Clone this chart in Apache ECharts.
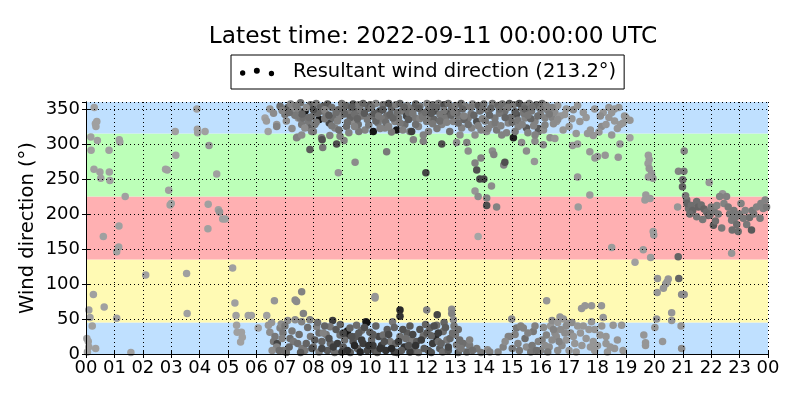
<!DOCTYPE html>
<html>
<head>
<meta charset="utf-8">
<script src="https://cdn.jsdelivr.net/npm/echarts@6/dist/echarts.min.js"></script>
<style>html,body{margin:0;padding:0;background:#fff}#c{width:800px;height:400px}</style>
</head>
<body>
<div id="c"></div>
<script>
// Each point: [hour of day, wind direction (deg), grey level of marker]
const pts00to06 = [
[0.29,352,160],[0.38,332,160],[0.35,325,160],[0.33,329,160],[0.17,310,160],[0.4,305,160],[0.18,291,160],[0.28,264,160],[0.49,260,160],[0.52,251,160],[0.81,291,160],[0.82,260,160],[0.84,248,160],[1.17,306,160],[1.19,303,160],[1.38,225,160],[0.61,168,160],[1.16,183,160],[1.15,153,160],[1.08,146,160],[0.26,85,160],[0.64,67,160],[0.1,63,160],[0.14,52,160],[0.22,40,160],[1.08,51,160],[0.08,18,160],[0.1,10,160],[0.34,8,160],[0.05,3,160],[0.03,22,160],[1.58,2,160],[2.1,113,160],[2.8,264,160],[2.86,263,160],[2.91,234,160],[2.96,213,160],[3.0,215,160],[3.14,318,160],[3.16,284,160],[3.54,115,160],[3.56,58,160],[3.9,350,160],[3.92,321,160],[3.93,316,160],[4.19,318,160],[4.33,298,150],[4.6,257,160],[4.3,214,160],[4.29,179,160],[4.66,206,160],[4.7,203,150],[4.81,193,160],[4.9,193,160],[5.16,123,160],[5.24,73,160],[5.28,55,160],[5.71,55,160],[5.82,55,160],[5.3,41,160],[5.32,31,160],[5.47,31,160],[5.5,24,160],[5.44,17,160],[6.06,37,160],[6.36,55,160],[6.63,76,150]
];
const ptsNorthTop = [
[6.47,350,150],[6.3,337,160],[6.35,333,155],[6.41,318,160],[6.6,344,140],[6.71,328,150],[6.71,325,130],[6.83,354,110],[7.0,342,120],[7.1,352,100],[7.29,351,140],[7.47,349,130],[7.47,337,150],[7.44,310,150],[7.41,309,130],[7.53,337,120],[7.59,313,140],[7.59,328,120],[7.65,337,110],[7.71,347,20],[7.82,332,120],[7.88,323,100],[7.94,318,130],[7.88,292,90],[7.7,323,140],[8.0,318,120],[8.21,335,20],[8.29,347,110],[8.35,354,90],[8.45,343,120],[8.56,330,70],[8.7,337,110],[8.76,323,130],[8.29,309,120],[8.31,306,80],[8.33,295,120],[8.58,312,130],[8.82,300,80],[8.88,259,150],[8.94,311,130],[8.88,349,100],[9.05,351,110],[9.08,305,130],[9.23,344,120],[9.35,332,140],[9.17,325,110],[9.47,274,140],[9.52,347,90],[9.58,328,110],[9.7,340,120],[9.82,320,130],[9.93,351,100],[10.05,340,110],[10.11,318,20],[10.28,330,120],[10.34,347,70],[10.52,323,130],[10.58,340,110],[10.58,289,120],[10.75,351,100],[10.87,332,130],[10.93,320,20],[11.11,347,120],[11.22,328,110],[11.28,340,70],[11.4,318,120],[11.46,351,110],[11.46,318,60],[11.52,306,130],[11.58,337,120],[11.7,325,130],[11.82,344,110],[11.87,313,130],[11.87,304,130],[11.96,259,70],[11.99,332,120],[12.05,349,110],[12.1,337,120],[12.05,318,130],[12.28,347,80],[12.46,342,120],[12.52,328,130],[12.52,300,80],[12.69,344,80],[12.87,351,110],[12.93,332,130],[13.04,302,140],[13.1,340,120],[13.22,323,130],[13.16,313,140],[13.4,302,130],[13.45,337,120],[13.45,290,140],[13.57,323,130],[13.75,332,80],[13.69,313,140],[13.86,347,110],[13.69,273,130],[13.75,263,80],[13.86,250,70],[14.0,250,70],[13.9,280,130],[14.27,240,140],[13.69,233,150],[13.8,225,140],[14.1,223,130],[14.1,212,80],[14.45,210,130],[13.8,168,165],[14.16,347,120],[14.27,328,130],[14.39,337,120],[14.1,318,140],[14.3,290,140],[14.35,285,130],[14.7,270,130],[14.74,274,80],[14.63,313,130],[14.74,347,110],[14.86,330,130],[15.04,309,30],[15.15,342,80],[15.21,325,130],[15.33,351,120],[15.45,337,130],[15.5,323,90],[15.5,290,140],[15.68,347,120],[15.8,332,130],[15.92,318,120],[15.97,351,110],[15.8,304,140],[15.33,302,140],[15.78,275,150],[16.15,337,130],[16.27,349,120],[16.33,309,140],[16.23,349,130],[15.92,322,90],[15.8,313,130],[16.09,299,140],[16.56,332,150],[16.79,320,150],[16.5,308,150],[17.15,349,140],[17.12,298,150],[17.38,332,150],[17.3,300,150],[17.73,289,150],[17.91,280,150],[18.0,282,150],[18.27,284,150],[18.73,281,150],[18.79,300,150],[19.14,309,160],[18.14,325,140],[18.5,313,150],[18.2,345,150],[18.1,340,140],[18.4,338,150],[18.6,333,150],[18.8,328,150],[18.7,322,150],[18.05,317,150],[17.85,312,150],[17.75,320,150],[19.14,334,150],[18.9,330,150],[18.95,340,150],[18.6,350,150],[18.4,352,150],[17.65,315,150]
];
const ptsNorthTopFill = [
[7.2,357,130],[7.55,359,110],[7.9,356,100],[8.1,358,120],[8.5,357,90],[8.65,352,110],[9.0,358,120],[9.15,355,100],[9.4,357,80],[9.6,356,120],[9.75,358,100],[10.0,356,90],[10.2,358,130],[10.45,356,110],[10.65,358,80],[10.9,356,120],[11.05,358,100],[11.3,355,120],[11.6,357,90],[11.75,354,110],[12.0,358,130],[12.2,356,100],[12.4,358,120],[12.6,356,80],[12.75,358,110],[13.0,355,120],[13.2,358,100],[13.35,354,120],[13.6,357,130],[13.8,355,90],[14.0,357,110],[14.3,358,120],[14.5,355,100],[14.65,357,110],[14.9,358,90],[15.05,356,120],[15.25,358,80],[15.45,355,110],[15.6,358,120],[15.85,356,100],[16.05,358,110],[16.2,355,130],
[7.35,341,120],[7.95,339,110],[8.15,344,100],[8.4,336,120],[8.95,340,130],[9.3,338,100],[9.45,343,110],[9.9,335,120],[10.15,344,90],[10.4,336,120],[10.7,342,100],[11.0,337,120],[11.35,345,110],[11.75,336,130],[12.25,335,100],[12.65,337,120],[13.05,345,110],[13.3,335,100],[13.55,343,120],[13.95,336,130],[14.2,341,100],[14.55,344,120],[14.95,338,110],[15.4,344,120],[15.65,336,100],[16.0,342,130],[16.4,338,130],[16.5,345,140],
[7.25,322,140],[8.05,328,120],[8.9,320,110],[9.25,316,130],[9.6,318,120],[10.35,322,130],[10.75,317,120],[11.15,320,130],[12.35,322,120],[12.8,318,110],[13.9,320,130],[14.45,320,120],[14.8,316,130],[15.1,318,120],[15.55,316,130],[16.1,320,140],[16.7,340,150],[16.9,350,150],[17.5,345,150],[17.0,325,150],[17.25,315,150],[16.6,355,150]
];
const ptsNorthTopFill2 = [
[6.9,348,130],[7.05,333,140],[7.15,345,110],[7.4,355,120],[7.6,343,100],[7.75,352,140],[7.85,338,110],[8.0,349,80],[8.1,331,120],[8.25,352,100],[8.4,349,130],[8.55,341,90],[8.65,326,120],[8.8,345,110],[8.85,333,130],[9.1,343,100],[9.2,331,110],[9.35,352,90],[9.45,325,130],[9.55,336,100],[9.65,349,120],[9.8,344,90],[9.95,327,120],[10.05,352,110],[10.2,333,100],[10.3,340,120],[10.45,349,90],[10.55,331,110],[10.65,325,130],[10.8,337,100],[10.95,345,110],[11.05,330,120],[11.2,352,100],[11.35,335,90],[11.5,344,120],[11.6,328,110],[11.7,351,90],[11.85,339,120],[11.95,345,110],[12.15,344,90],[12.2,329,120],[12.35,352,100],[12.45,333,110],[12.6,348,120],[12.7,331,130],[12.85,341,100],[12.95,345,120],[13.1,330,110],[13.25,350,100],[13.3,340,130],[13.45,328,110],[13.55,352,120],[13.65,341,100],[13.8,326,130],[13.95,350,110],[14.05,333,120],[14.15,322,130],[14.25,351,100],[14.4,330,120],[14.55,350,110],[14.6,326,130],[14.75,338,100],[14.85,352,120],[15.0,331,110],[15.1,346,90],[15.2,334,120],[15.35,328,130],[15.45,350,100],[15.55,341,120],[15.7,352,110],[15.75,326,130],[15.9,340,110],[16.0,350,120],[16.15,327,130],[16.3,343,120],[16.4,352,130],[16.45,329,140],[16.6,335,140],[16.85,342,150],[17.1,336,150],[17.3,355,150],[17.6,338,150],[17.9,350,150],[18.3,328,150],[18.5,345,150],[18.75,352,150],[19.0,338,150]
];
const ptsNorthBottom = [
[6.42,41,150],[6.47,31,140],[6.6,18,120],[6.73,15,70],[6.83,37,130],[6.93,30,120],[7.18,22,110],[6.87,43,140],[7.3,18,120],[7.45,15,110],[7.59,46,130],[7.41,75,140],[7.59,89,130],[7.36,77,140],[7.65,58,130],[7.36,49,140],[7.1,48,140],[6.53,45,150],[6.71,10,130],[6.55,5,140],[6.95,5,120],[7.05,2,110],[7.6,8,120],[7.9,25,120],[7.88,49,130],[8.12,39,130],[8.2,30,110],[8.3,18,100],[8.45,28,120],[8.68,48,60],[8.59,39,120],[8.35,30,130],[8.94,27,110],[8.85,15,60],[9.05,10,90],[9.15,26,50],[9.2,33,20],[9.29,37,100],[9.4,18,80],[9.52,41,110],[9.7,34,110],[9.55,8,100],[9.75,15,60],[9.85,46,40],[9.88,45,20],[9.99,31,90],[10.05,20,100],[10.15,5,80],[10.17,82,150],[10.17,80,150],[10.3,25,70],[10.46,27,110],[10.4,12,60],[10.6,35,90],[10.7,18,120],[10.79,46,120],[10.85,3,60],[11.05,63,40],[11.05,54,50],[11.05,25,110],[11.2,10,50],[11.3,30,90],[11.45,20,120],[11.55,5,100],[11.64,18,90],[11.75,35,80],[11.87,26,110],[11.99,63,130],[12.05,5,80],[12.1,37,100],[12.2,15,60],[12.34,41,110],[12.36,56,70],[12.3,25,40],[12.45,8,90],[12.57,32,110],[12.6,45,100],[12.7,20,120],[12.81,22,100],[12.87,64,140],[12.87,58,130],[12.93,49,140],[13.04,13,120],[13.28,15,110],[13.4,3,100],[13.75,8,120],[14.13,6,140],[14.21,3,130],[14.68,10,130],[14.92,25,140],[14.86,25,130],[14.98,50,140],[15.15,37,120],[15.39,37,130],[15.3,40,130],[15.74,32,120],[15.92,18,130],[15.5,10,140],[15.65,3,120],[15.2,15,130],[16.0,5,130],[16.1,38,140],[16.2,27,130],[16.35,40,150],[16.5,30,140],[16.21,76,150],[16.68,53,150],[16.4,48,140],[16.6,45,150],[16.8,50,150],[16.95,44,150],[17.1,45,140],[17.3,40,150],[16.9,20,150],[16.75,12,140],[17.0,5,150],[17.2,15,150],[17.44,65,150],[17.79,69,150],[18.14,69,150],[17.56,69,150],[18.2,52,150],[17.79,46,150],[17.5,40,150],[17.9,35,150],[18.09,27,150],[18.55,41,150],[18.85,41,150],[18.3,15,150],[18.6,8,150],[18.35,3,150],[17.6,22,150],[17.75,10,150],[17.9,5,150],[16.55,25,140],[16.3,10,140],[16.7,35,140],[17.05,30,140]
];
const ptsNorthBottomFill = [
[8.5,5,90],[8.75,2,110],[9.0,3,60],[9.3,2,90],[9.65,3,40],[9.9,5,70],[10.25,2,90],[10.55,5,50],[10.95,2,70],[11.1,5,90],[11.4,3,60],[11.7,2,110],[11.9,8,90],[12.15,2,80],[12.55,3,110],[12.75,5,90],[13.1,2,100],[8.6,15,100],[9.1,20,110],[9.5,25,90],[10.1,12,60],[10.9,15,100],[11.35,12,80],[12.4,18,110],[13.0,28,120],[13.15,20,110],[13.5,12,120],[7.7,5,120],[8.0,10,110],[8.2,3,120],
[6.65,25,120],[6.8,5,110],[6.9,22,130],[7.0,40,120],[7.15,10,100],[7.25,33,120],[7.5,28,110],[7.55,2,90],[7.75,15,100],[7.8,38,110],[7.95,8,80],[8.05,20,90],[8.15,45,110],[8.3,8,70],[8.4,40,100],[8.55,22,80],[8.7,10,60],[8.8,35,90],[8.95,42,100],[9.05,30,70],[9.2,5,50],[9.35,25,80],[9.45,12,40],[9.6,30,90],[9.7,20,60],[9.8,38,80],[9.95,12,50],[10.1,28,90],[10.2,40,100],[10.35,8,50],[10.5,18,80],[10.65,28,70],[10.75,8,40],[10.85,38,100],[11.0,18,60],[11.15,35,80],[11.25,22,110],[11.4,40,90],[11.5,28,70],[11.6,12,50],[11.8,20,60],[11.95,42,100],[12.0,30,90],[12.15,26,100],[12.25,40,80],[12.4,30,60],[12.5,15,100],[12.65,38,90],[12.75,10,70],[12.9,30,110],[12.95,40,120],[13.1,35,110],[13.2,8,120],[13.5,20,130],[13.6,5,110],[13.9,2,120],
[14.5,3,130],[14.75,18,140],[15.0,8,120],[15.1,28,130],[15.25,5,120],[15.45,22,110],[15.55,30,130],[15.7,12,120],[15.8,40,130],[15.85,5,110],[16.05,20,130],[16.15,12,140],[16.25,3,120],[16.4,20,140],[16.45,35,130],[16.6,5,140],[16.65,18,130],[16.85,30,140],[16.9,40,140],[17.15,25,150],[17.25,3,150],[17.4,30,150],[17.45,12,150],[17.7,35,150],[17.85,18,150],[18.0,12,150],[18.15,40,150],[18.3,25,150],[18.45,10,150],[18.7,20,150],[18.9,5,150]
];
const pts17to21 = [
[17.3,253,150],[17.73,227,155],[17.32,210,155],[18.5,152,155],[19.32,131,160],[19.61,149,155],[19.87,138,155],[19.79,284,155],[19.82,278,155],[19.78,272,155],[19.82,265,150],[19.9,258,150],[19.95,251,150],[19.79,253,155],[19.7,227,155],[19.67,220,155],[19.85,222,155],[19.96,175,155],[19.98,170,155],[21.05,290,130],[20.85,261,130],[21.04,261,120],[21.0,249,110],[20.99,239,100],[20.82,210,150],[20.84,139,100],[20.86,108,100],[20.11,108,150],[20.1,88,150],[20.49,107,150],[20.45,103,150],[20.32,94,150],[20.4,100,150],[20.96,85,140],[21.05,85,140],[20.61,59,150],[20.61,48,150],[20.08,50,150],[20.02,38,150],[20.94,40,150],[19.63,27,150],[19.69,16,150],[19.69,12,150],[20.29,18,150],[20.96,8,140],[21.93,245,150],[22.4,229,150],[22.72,144,150]
];
const pts21to24 = [
[21.14,220,110],[21.2,208,110],[21.1,226,120],[21.15,215,100],[21.3,212,110],[21.35,205,100],[21.49,218,110],[21.55,210,100],[21.65,213,110],[21.75,207,100],[21.84,203,110],[21.9,198,100],[21.49,196,120],[21.96,199,110],[22.0,210,120],[22.08,184,90],[22.1,205,120],[22.2,212,130],[22.25,200,120],[22.37,180,120],[22.3,225,130],[22.45,215,130],[22.54,225,130],[22.6,210,120],[22.65,200,120],[22.72,191,120],[22.74,177,110],[22.8,205,120],[22.85,195,120],[22.95,175,110],[22.9,185,110],[23.0,200,120],[23.13,194,120],[23.2,205,130],[23.25,185,120],[23.42,177,90],[23.35,195,110],[23.45,205,120],[23.5,200,120],[23.6,210,130],[23.72,194,120],[23.75,215,130],[23.83,208,130],[23.9,220,130],[23.95,210,120],[21.7,192,120],[22.15,190,110],[23.05,215,130],[21.25,200,110]
];
// Direction sector bands
const bandLimits = [0, 45, 135, 225, 315, 360];
const bandColors = ['#bfe0ff', '#fffab4', '#ffb0b2', '#bcffb8', '#bfe0ff'];
const titleText = 'Latest time: 2022-09-11 00:00:00 UTC';
const seriesName = 'Resultant wind direction (213.2°)';

const allPts = [].concat(pts00to06, ptsNorthTop, ptsNorthTopFill, ptsNorthTopFill2, ptsNorthBottom, ptsNorthBottomFill, pts17to21, pts21to24);
const bands = bandColors.map((c, i) => [{yAxis: bandLimits[i], itemStyle: {color: c}}, {yAxis: bandLimits[i + 1]}]);

const FONT = 'DejaVu Sans';
const chart = echarts.init(document.getElementById('c'), null, {renderer: 'canvas'});
const hourFmt = v => String(Math.round(v) % 24).padStart(2, '0');
const axisCommon = {
  z: 10,
  axisLine: {show: true, lineStyle: {color: '#000', width: 1}},
  axisTick: {show: true, inside: true, length: 4, lineStyle: {color: '#000'}}
};
chart.setOption({
  animation: false,
  backgroundColor: '#fff',
  textStyle: {fontFamily: FONT, color: '#000'},
  title: {text: titleText, left: 428, textAlign: 'center', top: 20,
    textStyle: {fontFamily: FONT, fontSize: 23.3, fontWeight: 'normal', color: '#000'}},
  legend: {
    left: 231, top: 55, padding: [7, 8, 7, 9], borderColor: '#000', borderWidth: 1, borderRadius: 0,
    backgroundColor: '#fff', itemWidth: 48, itemHeight: 11,
    textStyle: {fontFamily: FONT, fontSize: 19.5, color: '#000'},
    data: [{name: seriesName, icon: 'path://M0,6a2.5,2.5 0 1,0 5,0a2.5,2.5 0 1,0 -5,0z M13,4a2.8,2.8 0 1,0 5.6,0a2.8,2.8 0 1,0 -5.6,0z M27,6.5a2.5,2.5 0 1,0 5,0a2.5,2.5 0 1,0 -5,0z M45,6.5a0.01,0.01 0 1,0 0.02,0z', itemStyle: {color: '#000'}}]
  },
  grid: {left: 86, right: 32, top: 102, bottom: 46},
  xAxis: [Object.assign({}, axisCommon, {
    type: 'value', min: 0, max: 24, interval: 1,
    axisLabel: {formatter: hourFmt, fontFamily: FONT, fontSize: 18, color: '#000', margin: 5, interval: 0, hideOverlap: false},
    splitLine: {show: true, lineStyle: {color: '#000', width: 1, type: [1, 3]}}
  }), Object.assign({}, axisCommon, {
    type: 'value', min: 0, max: 24, interval: 1, position: 'top',
    axisLabel: {show: false}, splitLine: {show: false}
  })],
  yAxis: [Object.assign({}, axisCommon, {
    type: 'value', min: 0, max: 360, interval: 50,
    name: 'Wind direction (°)', nameLocation: 'middle', nameGap: 48, nameMoveOverlap: false,
    nameTextStyle: {fontFamily: FONT, fontSize: 19.5, color: '#000'},
    axisLabel: {fontFamily: FONT, fontSize: 18, color: '#000', margin: 6, showMaxLabel: false},
    splitLine: {show: true, lineStyle: {color: '#000', width: 1, type: [1, 3]}}
  }), Object.assign({}, axisCommon, {
    type: 'value', min: 0, max: 360, interval: 50, position: 'right',
    axisLabel: {show: false}, splitLine: {show: false}
  })],
  series: [{
    type: 'line', name: 'bands', data: [], z: 1, silent: true,
    markArea: {silent: true, data: bands}
  }, {
    type: 'scatter', name: seriesName, data: allPts, symbol: 'circle', symbolSize: 7.5, z: 3,
    itemStyle: {opacity: 1, color: p => { const g = p.value[2]; return 'rgb(' + g + ',' + g + ',' + g + ')'; }}
  }]
});
</script>
</body>
</html>
